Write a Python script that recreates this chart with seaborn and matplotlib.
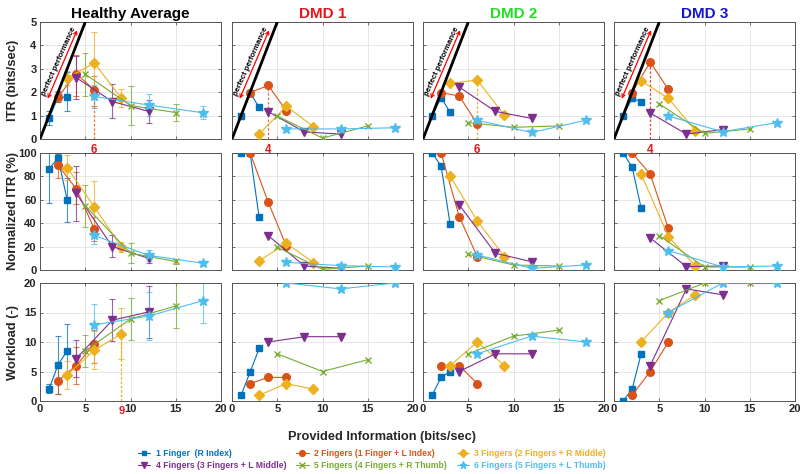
import matplotlib
matplotlib.use('Agg')
import matplotlib.pyplot as plt
import seaborn as sns
import numpy as np
import pandas as pd
from matplotlib.lines import Line2D

sns.set_theme(style='white')
plt.rcParams['font.family'] = ['Liberation Sans', 'DejaVu Sans']
plt.rcParams['font.weight'] = 'bold'
plt.rcParams['axes.labelweight'] = 'bold'
plt.rcParams['axes.titleweight'] = 'bold'

# ---------------- data ----------------
series_names = ['1 Finger  (R Index)', '2 Fingers (1 Finger + L Index)', '3 Fingers (2 Fingers + R Middle)',
                '4 Fingers (3 Fingers + L Middle)', '5 Fingers (4 Fingers + R Thumb)', '6 Fingers (5 Fingers + L Thumb)']
colors = ['#0072BD', '#D95319', '#EDB120', '#7E2F8E', '#77AC30', '#4DBEEE']
markers = ['s', 'o', 'D', 'v', 'x', '*']
msizes = [4.5, 5.5, 5, 5.5, 5, 7]
x_vals = [[1, 2, 3], [2, 4, 6], [3, 6, 9], [4, 8, 12], [5, 10, 15], [6, 12, 18]]

panel_titles = ['Healthy Average', 'DMD 1', 'DMD 2', 'DMD 3']
title_colors = ['black', '#E8161B', '#22DD22', '#1515D0']

# ITR (bits/sec)
itr_healthy = [[0.88, 1.80, 1.78], [1.80, 2.79, 2.10], [2.60, 3.25, 1.74],
               [2.62, 1.60, 1.18], [2.77, 1.43, 1.13], [1.82, 1.45, 1.12]]
itr_healthy_lo = [[0.58, 1.60, 1.18], [1.60, 1.82, 1.42], [2.30, 1.93, 1.35],
                  [1.70, 0.90, 0.70], [1.85, 0.60, 0.75], [1.33, 0.97, 0.85]]
itr_healthy_hi = [[1.18, 2.00, 2.85], [2.05, 3.60, 2.70], [2.90, 4.57, 2.15],
                  [3.55, 2.35, 1.68], [3.68, 2.28, 1.50], [2.30, 1.93, 1.42]]
itr_dmd1 = [[0.98, 1.98, 1.35], [1.98, 2.29, 1.21], [0.21, 1.40, 0.53],
            [1.17, 0.30, 0.21], [0.98, 0.04, 0.56], [0.43, 0.43, 0.48]]
itr_dmd2 = [[0.98, 1.77, 1.14], [1.98, 1.84, 0.64], [2.38, 2.52, 1.01],
            [2.22, 1.18, 0.88], [0.70, 0.50, 0.56], [0.80, 0.28, 0.80]]
itr_dmd3 = [[0.98, 1.74, 1.60], [1.98, 3.29, 2.12], [2.48, 1.74, 0.36],
            [1.11, 0.21, 0.40], [1.50, 0.24, 0.43], [0.98, 0.31, 0.70]]

# Normalized ITR (%)
nitr_healthy = [[86.6, 95.5, 60.0], [89.5, 69.5, 35.0], [87.5, 54.0, 19.5],
                [65.5, 20.0, 10.0], [55.0, 14.3, 7.3], [29.5, 12.5, 5.8]]
nitr_healthy_lo = [[57, 92, 41], [79, 56, 25], [77, 33, 15],
                   [42, 11, 6], [37, 6, 5], [22, 8, 4]]
nitr_healthy_hi = [[116, 99, 79], [100, 84, 45], [98, 76, 24],
                   [89, 30, 14], [73, 23, 9.5], [37, 17, 7.5]]
nitr_dmd1 = [[100, 100, 44.9], [100, 58.0, 20.6], [7.7, 22.9, 6.3],
             [29.4, 3.4, 1.4], [19.4, 0.6, 3.4], [6.6, 3.7, 2.6]]
nitr_dmd2 = [[100, 89.0, 38.9], [100, 45.7, 11.4], [80.0, 42.0, 11.4],
             [55.7, 14.3, 7.1], [13.4, 4.3, 3.4], [12.9, 1.4, 4.3]]
nitr_dmd3 = [[100, 88.0, 52.9], [100, 82.0, 35.7], [82.0, 28.6, 3.4],
             [27.4, 2.9, 3.4], [29.4, 2.6, 2.6], [16.6, 2.6, 3.4]]

# Workload (-)
wl_healthy = [[2.05, 6.15, 8.5], [3.4, 6.0, 9.7], [4.4, 8.6, 11.4],
              [7.2, 13.7, 15.1], [8.5, 13.9, 16.1], [12.9, 14.4, 17.0]]
wl_healthy_lo = [[1.3, 1.2, 4.0], [1.2, 2.9, 6.5], [2.0, 5.4, 7.1],
                 [4.1, 10.2, 10.7], [5.8, 10.4, 12.3], [9.3, 10.4, 13.2]]
wl_healthy_hi = [[2.8, 11.1, 13.0], [5.6, 9.1, 12.0], [6.8, 11.9, 15.7],
                 [10.4, 17.3, 19.5], [11.2, 17.4, 20.0], [16.5, 18.4, 20.8]]
wl_dmd1 = [[0.97, 4.9, 8.9], [2.95, 4.0, 4.0], [0.97, 2.95, 2.0],
           [10.0, 10.9, 10.9], [8.0, 5.0, 7.0], [20.0, 19.0, 20.0]]
wl_dmd2 = [[0.97, 4.0, 5.0], [6.0, 6.0, 2.95], [6.0, 10.0, 6.0],
           [5.0, 8.0, 8.0], [8.0, 11.0, 12.0], [8.0, 11.0, 10.0]]
wl_dmd3 = [[0.0, 2.0, 8.0], [0.97, 5.0, 10.0], [10.0, 15.0, 18.0],
           [6.0, 19.0, 18.0], [17.0, 20.0, 20.0], [15.0, 20.0, 20.0]]

# marked optimum (x, y, colour) per top panel
opt_top = [(6, 2.10, '#E8772E'), (4, 2.29, '#E8603C'), (6, 2.52, '#EDB120'), (4, 3.29, '#E8403C')]
opt_label = ['6', '4', '6', '4']
opt_wl = (9, 11.4, '#EDB120')

rows_data = [
    [itr_healthy, itr_dmd1, itr_dmd2, itr_dmd3],
    [nitr_healthy, nitr_dmd1, nitr_dmd2, nitr_dmd3],
    [wl_healthy, wl_dmd1, wl_dmd2, wl_dmd3],
]
rows_err = [(itr_healthy_lo, itr_healthy_hi), (nitr_healthy_lo, nitr_healthy_hi), (wl_healthy_lo, wl_healthy_hi)]
row_ylim = [(0, 5), (0, 100), (0, 20)]
row_yticks = [[0, 1, 2, 3, 4, 5], [0, 20, 40, 60, 80, 100], [0, 5, 10, 15, 20]]
row_ylabels = ['ITR (bits/sec)', 'Normalized ITR (%)', 'Workload (-)']

# ---------------- figure ----------------
fig = plt.figure(figsize=(8, 4.74), dpi=100)
lefts = [40, 232, 423, 614]
row_top = [22, 153, 283]
row_bot = [139, 270, 401]
W, H = 800, 474
red = '#E8161B'

for r in range(3):
    for c in range(4):
        ax = fig.add_axes([lefts[c] / W, 1 - row_bot[r] / H, 181 / W, (row_bot[r] - row_top[r]) / H])
        data = rows_data[r][c]
        for s in range(6):
            df = pd.DataFrame({'x': x_vals[s], 'y': data[s]})
            if c == 0:
                lo, hi = rows_err[r]
                yv = np.array(data[s])
                ax.errorbar(x_vals[s], yv, yerr=[yv - np.array(lo[s]), np.array(hi[s]) - yv],
                            fmt='none', ecolor=colors[s], elinewidth=0.8, capsize=2.5,
                            capthick=0.8, alpha=0.75, zorder=2)
            sns.lineplot(data=df, x='x', y='y', ax=ax, color=colors[s], marker=markers[s],
                         markersize=msizes[s], markeredgecolor=colors[s], markeredgewidth=1.0,
                         linewidth=0.8, zorder=3, legend=False)
        ax.set_xlim(0, 20)
        ax.set_ylim(*row_ylim[r])
        ax.set_yticks(row_yticks[r])
        ax.set_xticks([0, 5, 10, 15, 20])
        ax.grid(True, color='#e3e3e3', linewidth=0.6)
        ax.set_axisbelow(True)
        ax.set_xlabel('')
        ax.set_ylabel('')
        for sp in ax.spines.values():
            sp.set_color('#555555')
            sp.set_linewidth(0.7)
        ax.tick_params(direction='in', length=2.5, width=0.6, color='#555555',
                       labelsize=8, pad=2.5, top=True, right=True, bottom=True, left=True)
        for lab in ax.get_xticklabels() + ax.get_yticklabels():
            lab.set_fontweight('bold')
        if c != 0:
            ax.set_yticklabels([])
        if r != 2:
            ax.set_xticklabels([])
        if r == 0:
            ax.set_title(panel_titles[c], color=title_colors[c], fontsize=11, fontweight='bold', pad=3)
            # perfect performance line
            ax.plot([0, 5], [0, 5], color='black', linewidth=2.0, zorder=4)
            ax.annotate('', xy=(4.1, 4.65), xytext=(0.85, 1.72),
                        arrowprops=dict(arrowstyle='<->', color='red', lw=0.9,
                                        shrinkA=0, shrinkB=0, mutation_scale=6))
            ax.text(2.05, 3.3, 'perfect performance', rotation=66, ha='center', va='center',
                    fontsize=5.6, fontweight='bold', color='black')
            ox, oy, oc = opt_top[c]
            ax.plot([ox, ox], [0, oy], linestyle=(0, (2, 1.5)), color=oc, linewidth=0.9, zorder=2)
            ax.text(ox, -0.045, opt_label[c], transform=ax.get_xaxis_transform(), ha='center',
                    va='top', color=red, fontsize=8.5, fontweight='bold')
        if r == 2 and c == 0:
            ox, oy, oc = opt_wl
            ax.plot([ox, ox], [0, oy], linestyle=(0, (2, 1.5)), color=oc, linewidth=0.9, zorder=2)
            ax.text(ox, -0.045, '9', transform=ax.get_xaxis_transform(), ha='center',
                    va='top', color=red, fontsize=8, fontweight='bold')
        if c == 0:
            ycen = 1 - (row_top[r] + row_bot[r]) / 2 / H
            fig.text(0.016, ycen, row_ylabels[r], rotation=90, ha='center', va='center',
                     fontsize=9.4, fontweight='bold')

fig.text(0.478, 0.078, 'Provided Information (bits/sec)', ha='center', va='center',
         fontsize=9.2, fontweight='bold')

handles = [Line2D([0], [0], color=colors[s], marker=markers[s], markersize=msizes[s] * 0.75,
                  markeredgecolor=colors[s], linewidth=0.8, label=series_names[s]) for s in range(6)]
order = [0, 3, 1, 4, 2, 5]
leg = fig.legend(handles=[handles[i] for i in order], loc='center', bbox_to_anchor=(0.465, 0.03),
                 ncol=3, frameon=False, fontsize=6.2, labelcolor='linecolor', handlelength=1.4,
                 columnspacing=1.2, handletextpad=0.6, labelspacing=0.3)
for t in leg.get_texts():
    t.set_fontweight('bold')

fig.savefig('out.png', dpi=100)
